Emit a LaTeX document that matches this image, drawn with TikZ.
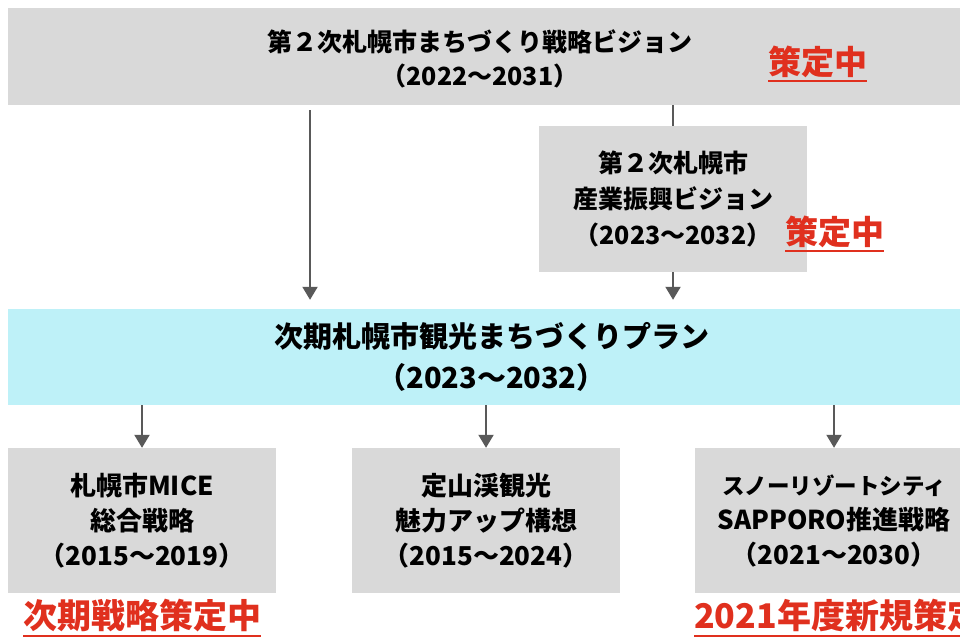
\documentclass[tikz,border=0pt]{standalone}
\usepackage{fontspec}
\setmainfont{Noto Sans CJK JP}
\usetikzlibrary{arrows.meta}
\definecolor{boxgray}{HTML}{D9D9D9}
\definecolor{boxcyan}{HTML}{BEF1F8}
\definecolor{arrgray}{HTML}{595959}
\definecolor{redtxt}{HTML}{E0301E}
\tikzset{
  graybox/.style={fill=boxgray, draw=none, inner sep=0pt, align=center},
  cyanbox/.style={fill=boxcyan, draw=none, inner sep=0pt, align=center},
  arr/.style={draw=arrgray, line width=2pt, -{Triangle[width=15pt,length=13pt]}},
  plainline/.style={draw=arrgray, line width=2pt},
  redlabel/.style={text=redtxt, inner sep=0pt, font=\fontsize{33}{33}\selectfont\bfseries},
  redline/.style={draw=redtxt, line width=2pt}
}
\begin{document}
\begin{tikzpicture}[x=1pt,y=-1pt]
\useasboundingbox (0,0) rectangle (960,638);
% top box
\node[graybox, minimum width=952pt, minimum height=97pt] (top) at (484,56.5) {};
\node[align=center, inner sep=0pt, font=\fontsize{25}{34}\selectfont\bfseries] (toptxt) at (480,59) {第２次札幌市まちづくり戦略ビジョン\\（2022～2031）};
\node[redlabel, anchor=west] (r1) at (768,62) {策定中};
\draw[redline] ([yshift=-6pt]r1.base west) -- ([yshift=-6pt]r1.base east);
% box 2
\node[graybox, minimum width=268pt, minimum height=146pt, font=\fontsize{25}{36}\selectfont\bfseries] (box2) at (673,199) {第２次札幌市\\産業振興ビジョン\\（2023～2032）};
\node[redlabel, anchor=west] (r2) at (785,232) {策定中};
\draw[redline] ([yshift=-6pt]r2.base west) -- ([yshift=-6pt]r2.base east);
% cyan box
\node[cyanbox, minimum width=967pt, minimum height=96pt, font=\fontsize{29}{41}\selectfont\bfseries] (plan) at (491.5,357) {次期札幌市観光まちづくりプラン\\（2023～2032）};
% bottom boxes
\node[graybox, minimum width=268pt, minimum height=145pt, font=\fontsize{26}{35}\selectfont\bfseries] (ba) at (142,520.5) {札幌市MICE\\総合戦略\\（2015～2019）};
\node[graybox, minimum width=268pt, minimum height=145pt, font=\fontsize{26}{35}\selectfont\bfseries] (bb) at (486,520.5) {定山渓観光\\魅力アップ構想\\（2015～2024）};
\node[graybox, minimum width=278pt, minimum height=145pt, font=\fontsize{26}{35}\selectfont\bfseries] (bc) at (834,520.5) {{\fontsize{22.5}{35}\selectfont スノーリゾートシティ}\\SAPPORO推進戦略\\（2021～2030）};
\node[redlabel, anchor=west, font=\fontsize{34}{34}\selectfont\bfseries] (r3) at (23,616) {次期戦略策定中};
\draw[redline] ([yshift=-7pt]r3.base west) -- ([yshift=-7pt]r3.base east);
\node[redlabel, anchor=west, font=\fontsize{34}{34}\selectfont\bfseries] (r4) at (694,616) {2021年度新規策定};
\draw[redline] ([yshift=-7pt]r4.base west) -- ([yshift=-7pt]r4.base east);
% connectors
\coordinate (c1) at (310,0);
\draw[arr, shorten <=5pt, shorten >=9pt] (top.south -| c1) -- (plan.north -| c1);
\draw[plainline] (top.south -| box2.north) -- (box2.north);
\draw[arr, shorten >=9pt] (box2.south) -- (plan.north -| box2.south);
\draw[arr] (plan.south -| ba.north) -- (ba.north);
\draw[arr] (plan.south -| bb.north) -- (bb.north);
\draw[arr] (plan.south -| bc.north) -- (bc.north);
\end{tikzpicture}
\end{document}
